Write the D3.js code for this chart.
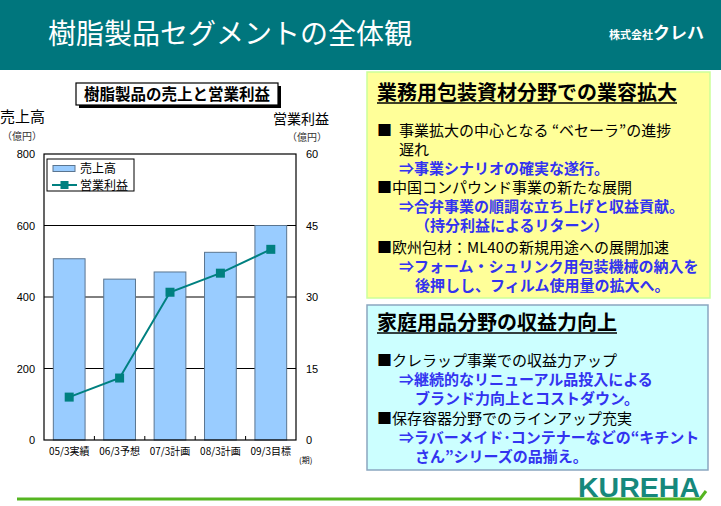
<!DOCTYPE html>
<html>
<head>
<meta charset="utf-8">
<script src="https://cdn.jsdelivr.net/npm/d3@7"></script>
<style>
  body { margin: 0; background: #fff; }
  svg { display: block; font-family: "Noto Sans CJK JP", sans-serif; }
</style>
</head>
<body>
<svg id="slide"></svg>
<script>
// chart data
const categories = ["05/3実績", "06/3予想", "07/3計画", "08/3計画", "09/3目標"];
const sales = [507, 450, 470, 525, 600];      // 売上高 (億円)
const profit = [9, 13, 31, 35, 40];           // 営業利益 (億円)
const salesTicks = [0, 200, 400, 600, 800];
const profitTicks = [0, 15, 30, 45, 60];

// text panels
const packHeading = "業務用包装資材分野での業容拡大";
const packLines = [
  { mark: "■", text: "事業拡大の中心となる “ベセーラ”の進捗", level: 1, blue: false },
  { text: "遅れ", level: 1, blue: false },
  { text: "⇒事業シナリオの確実な遂行。", level: 1, blue: true },
  { text: "■中国コンパウンド事業の新たな展開", level: 0, blue: false },
  { text: "⇒合弁事業の順調な立ち上げと収益貢献。", level: 1, blue: true },
  { text: "（持分利益によるリターン）", level: 2, blue: true },
  { text: "■欧州包材：ML40の新規用途への展開加速", level: 0, blue: false },
  { text: "⇒フォーム・シュリンク用包装機械の納入を", level: 1, blue: true },
  { text: "後押しし、フィルム使用量の拡大へ。", level: 2, blue: true }
];
const homeHeading = "家庭用品分野の収益力向上";
const homeLines = [
  { text: "■クレラップ事業での収益力アップ", level: 0, blue: false },
  { text: "⇒継続的なリニューアル品投入による", level: 1, blue: true },
  { text: "ブランド力向上とコストダウン。", level: 2, blue: true },
  { text: "■保存容器分野でのラインアップ充実", level: 0, blue: false },
  { text: "⇒ラバーメイド･コンテナーなどの“キチント", level: 1, blue: true },
  { text: "さん”シリーズの品揃え。", level: 2, blue: true }
];

const W = 721, H = 506;
const svg = d3.select("#slide").attr("width", W).attr("height", H);

// header band
svg.append("rect").attr("x", 0).attr("y", 0).attr("width", W).attr("height", 70).attr("fill", "#00767d");
svg.append("text")
  .attr("x", 48).attr("y", 44)
  .attr("fill", "#fff").attr("font-size", 28)
  .text("樹脂製品セグメントの全体観");
const corp = svg.append("text").attr("x", 704).attr("y", 39).attr("text-anchor", "end")
  .attr("fill", "#fff").attr("font-weight", "bold");
corp.append("tspan").attr("font-size", 11).text("株式会社");
corp.append("tspan").attr("font-size", 17).text("クレハ");

// ---- chart ----
const plot = { left: 44, right: 296, top: 154, bottom: 440 };

const x = d3.scaleBand().domain(categories).range([plot.left, plot.right]).paddingInner(0.37).paddingOuter(0.185);
const xEdge = d3.scaleBand().domain(categories).range([plot.left, plot.right]);
const ySales = d3.scaleLinear().domain([0, 800]).range([plot.bottom, plot.top]);
const yProfit = d3.scaleLinear().domain([0, 60]).range([plot.bottom, plot.top]);

const chart = svg.append("g");

// gridlines
chart.append("g")
  .selectAll("line")
  .data(salesTicks.slice(1, -1))
  .join("line")
    .attr("x1", plot.left).attr("x2", plot.right)
    .attr("y1", d => ySales(d)).attr("y2", d => ySales(d))
    .attr("stroke", "#000").attr("stroke-width", 1);

// bars
chart.append("g")
  .selectAll("rect")
  .data(sales)
  .join("rect")
    .attr("x", (d, i) => x(categories[i]))
    .attr("y", d => ySales(d))
    .attr("width", x.bandwidth())
    .attr("height", d => plot.bottom - ySales(d))
    .attr("fill", "#99ccff")
    .attr("stroke", "#5a7590")
    .attr("stroke-width", 1);

// frame
chart.append("rect")
  .attr("x", plot.left).attr("y", plot.top)
  .attr("width", plot.right - plot.left).attr("height", plot.bottom - plot.top)
  .attr("fill", "none").attr("stroke", "#000").attr("stroke-width", 1.2);

// inner ticks on category boundaries
chart.append("g")
  .selectAll("line")
  .data(categories.slice(1))
  .join("line")
    .attr("x1", d => xEdge(d)).attr("x2", d => xEdge(d))
    .attr("y1", plot.bottom).attr("y2", plot.bottom - 4)
    .attr("stroke", "#000");

// profit line
const line = d3.line()
  .x((d, i) => x(categories[i]) + x.bandwidth() / 2)
  .y(d => yProfit(d));
chart.append("path")
  .datum(profit)
  .attr("d", line)
  .attr("fill", "none")
  .attr("stroke", "#008080")
  .attr("stroke-width", 2);
chart.append("g")
  .selectAll("rect")
  .data(profit)
  .join("rect")
    .attr("x", (d, i) => x(categories[i]) + x.bandwidth() / 2 - 4.5)
    .attr("y", d => yProfit(d) - 4.5)
    .attr("width", 9).attr("height", 9)
    .attr("fill", "#008080");

// axes (labels only)
const leftAxis = d3.axisLeft(ySales).tickValues(salesTicks).tickSize(0).tickPadding(9);
const rightAxis = d3.axisRight(yProfit).tickValues(profitTicks).tickSize(0).tickPadding(10);
const bottomAxis = d3.axisBottom(x).tickSize(0).tickPadding(8);

const axisGs = [[leftAxis, plot.left, 0, 11], [rightAxis, plot.right, 0, 11], [bottomAxis, 0, plot.bottom, 10]].map(([ax, tx, ty, fs]) => {
  const g = chart.append("g").attr("transform", `translate(${tx},${ty})`).call(ax);
  g.select(".domain").remove();
  g.selectAll("text").attr("font-family", "Liberation Sans, Noto Sans CJK JP, sans-serif").attr("font-size", fs).attr("fill", "#000");
  return g;
});
axisGs[2].selectAll("text").attr("font-family", "Noto Sans CJK JP, sans-serif");

chart.append("text").attr("x", 299).attr("y", 463).attr("font-size", 8).text("(期)");

// axis titles
chart.append("text").attr("x", 0).attr("y", 122).attr("font-size", 15).text("売上高");
chart.append("text").attr("x", 2).attr("y", 140).attr("font-size", 10).attr("fill", "#333").text("（億円）");
chart.append("text").attr("x", 329).attr("y", 124).attr("text-anchor", "end").attr("font-size", 14).text("営業利益");
chart.append("text").attr("x", 327).attr("y", 141).attr("text-anchor", "end").attr("font-size", 10).attr("fill", "#333").text("（億円）");

// title box with shadow
chart.append("rect").attr("x", 79).attr("y", 86).attr("width", 202).attr("height", 22).attr("fill", "#000");
chart.append("rect").attr("x", 76).attr("y", 83).attr("width", 202).attr("height", 22)
  .attr("fill", "#fff").attr("stroke", "#000").attr("stroke-width", 1.2);
chart.append("text").attr("x", 177).attr("y", 99.5).attr("text-anchor", "middle")
  .attr("font-size", 15.5).attr("font-weight", "bold").text("樹脂製品の売上と営業利益");

// legend
const legend = chart.append("g");
legend.append("rect").attr("x", 47).attr("y", 159).attr("width", 87).attr("height", 32)
  .attr("fill", "#fff").attr("stroke", "#000");
legend.append("rect").attr("x", 53).attr("y", 165.5).attr("width", 22).attr("height", 6)
  .attr("fill", "#99ccff").attr("stroke", "#5a7590");
legend.append("text").attr("x", 80).attr("y", 173).attr("font-size", 12).text("売上高");
legend.append("line").attr("x1", 52).attr("x2", 77).attr("y1", 185).attr("y2", 185)
  .attr("stroke", "#008080").attr("stroke-width", 2);
legend.append("rect").attr("x", 60.5).attr("y", 181).attr("width", 8).attr("height", 8).attr("fill", "#008080");
legend.append("text").attr("x", 80).attr("y", 189.5).attr("font-size", 12).text("営業利益");

// ---- text panels ----
const levelX = [377, 399, 415];
function panel(box, fill, stroke, heading, headY, lines, firstY) {
  svg.append("rect").attr("x", box.x).attr("y", box.y).attr("width", box.w).attr("height", box.h)
    .attr("fill", fill).attr("stroke", stroke).attr("stroke-width", 1.5);
  const h = svg.append("text").attr("x", 377).attr("y", headY)
    .attr("font-size", 20).attr("font-weight", "bold").attr("fill", "#000").text(heading);
  const hw = h.node().getComputedTextLength();
  svg.append("line").attr("x1", 377).attr("x2", 377 + hw).attr("y1", headY + 3).attr("y2", headY + 3)
    .attr("stroke", "#000").attr("stroke-width", 1.5);
  svg.append("g").selectAll("text")
    .data(lines)
    .join("text")
      .attr("x", d => levelX[d.level])
      .attr("y", (d, i) => firstY[i])
      .attr("font-size", 15)
      .attr("font-weight", d => d.blue ? "bold" : "normal")
      .attr("fill", d => d.blue ? "#3333f0" : "#000")
      .text(d => d.text);
  svg.append("g").selectAll("text")
    .data(lines.filter(d => d.mark))
    .join("text")
      .attr("x", levelX[0])
      .attr("y", d => firstY[lines.indexOf(d)])
      .attr("font-size", 15)
      .text(d => d.mark);
}
panel({ x: 367, y: 72, w: 343, h: 226 }, "#ffff99", "#ccff99", packHeading, 100,
  packLines, [135.5, 154.5, 173.5, 193, 212, 231, 253, 272, 291]);
panel({ x: 367, y: 305, w: 341, h: 165 }, "#ccffff", "#8aa6c0", homeHeading, 330,
  homeLines, [366, 385, 404, 424, 443, 462]);

// footer
svg.append("text").attr("x", 700).attr("y", 497).attr("text-anchor", "end")
  .attr("font-family", "Liberation Sans, sans-serif").attr("font-weight", "bold")
  .attr("font-size", 27).attr("fill", "#16887c")
  .attr("textLength", 122).attr("lengthAdjust", "spacingAndGlyphs").text("KUREHA");
svg.append("path")
  .attr("d", "M17,499 L700,499 L706,491")
  .attr("fill", "none").attr("stroke", "#55b521").attr("stroke-width", 3);
</script>
</body>
</html>
